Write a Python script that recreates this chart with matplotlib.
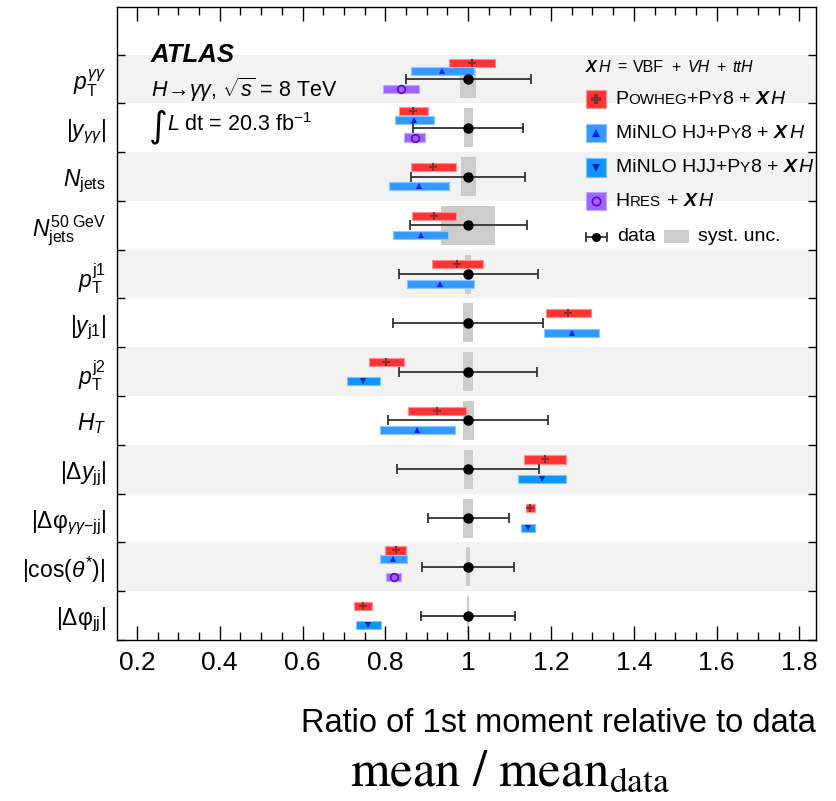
import numpy as np
import matplotlib
matplotlib.use("Agg")
import matplotlib.pyplot as plt
from matplotlib.patches import Rectangle
from matplotlib.lines import Line2D
from matplotlib.offsetbox import AnchoredOffsetbox, DrawingArea, HPacker, TextArea
from matplotlib.ticker import FixedLocator, MultipleLocator, FuncFormatter

SANS = "Liberation Sans"
plt.rcParams.update({
    "font.family": [SANS, "DejaVu Sans"],
    "mathtext.fontset": "custom",
    "mathtext.rm": SANS,
    "mathtext.it": SANS + ":italic",
    "mathtext.bf": SANS + ":bold",
    "mathtext.sf": SANS,
})

# observables, top to bottom
OBSERVABLES = [
    r"$p_{\mathrm{T}}^{\gamma\gamma}$",
    r"$|y_{\gamma\gamma}|$",
    r"$N_{\mathrm{jets}}$",
    r"$N_{\mathrm{jets}}^{\mathrm{50\ GeV}}$",
    r"$p_{\mathrm{T}}^{\mathrm{j1}}$",
    r"$|y_{\mathrm{j1}}|$",
    r"$p_{\mathrm{T}}^{\mathrm{j2}}$",
    r"$H_{T}$",
    r"$|\Delta y_{\mathrm{jj}}|$",
    r"$|\Delta\mathrm{\varphi}_{\gamma\gamma\mathrm{-jj}}|$",
    r"$|\cos(\theta^{*})|$",
    r"$|\Delta\mathrm{\varphi}_{\mathrm{jj}}|$",
]

nan = np.nan
POWHEG = [1.009, 0.868, 0.916, 0.917, 0.974, 1.241, 0.802, 0.925, 1.186, 1.150, 0.825, 0.746]
POWHEG_LO = [0.953, 0.832, 0.862, 0.865, 0.913, 1.187, 0.760, 0.855, 1.134, 1.139, 0.798, 0.724]
POWHEG_HI = [1.064, 0.904, 0.970, 0.970, 1.036, 1.296, 0.844, 0.995, 1.237, 1.162, 0.850, 0.769]

MINLO_HJ = [0.938, 0.870, 0.882, 0.885, 0.932, 1.251, nan, 0.877, nan, nan, 0.819, nan]
MINLO_HJ_LO = [0.863, 0.823, 0.810, 0.819, 0.852, 1.184, nan, 0.786, nan, nan, 0.786, nan]
MINLO_HJ_HI = [1.013, 0.917, 0.954, 0.952, 1.013, 1.317, nan, 0.968, nan, nan, 0.853, nan]

MINLO_HJJ = [nan, nan, nan, nan, nan, nan, 0.747, nan, 1.178, 1.144, nan, 0.758]
MINLO_HJJ_LO = [nan, nan, nan, nan, nan, nan, 0.707, nan, 1.121, 1.128, nan, 0.729]
MINLO_HJJ_HI = [nan, nan, nan, nan, nan, nan, 0.788, nan, 1.237, 1.161, nan, 0.789]

HRES = [0.839, 0.871, nan, nan, nan, nan, nan, nan, nan, nan, 0.821, nan]
HRES_LO = [0.795, 0.845, nan, nan, nan, nan, nan, nan, nan, nan, 0.802, nan]
HRES_HI = [0.882, 0.896, nan, nan, nan, nan, nan, nan, nan, nan, 0.839, nan]

DATA = [1.0, 1.0, 1.0, 1.0, 1.0, 1.0, 1.0, 1.0, 1.0, 1.0, 1.0, 1.0]
DATA_LO = [0.850, 0.868, 0.863, 0.859, 0.834, 0.818, 0.834, 0.806, 0.829, 0.903, 0.888, 0.886]
DATA_HI = [1.151, 1.132, 1.137, 1.142, 1.168, 1.181, 1.166, 1.194, 1.172, 1.098, 1.111, 1.113]
SYST = [0.019, 0.011, 0.018, 0.066, 0.008, 0.012, 0.012, 0.013, 0.011, 0.012, 0.005, 0.002]

RED, RED_EDGE, RED_MARK = "#ff3333", "#ff9090", "#8c2d2d"
BLUE, BLUE_EDGE, BLUE_MARK = "#3399ff", "#90c6ff", "#0a1aff"
BLUE2, BLUE2_EDGE, BLUE2_MARK = "#0f94ff", "#80c4ff", "#0d2c9e"
PURPLE, PURPLE_EDGE, PURPLE_MARK = "#9966ff", "#c4a8ff", "#6a00d0"
BAND = "#f2f2f2"
GREY = "#cccccc"

W, H = 836, 801
AX_TOP, AX_BOT = 7, 640
fig = plt.figure(figsize=(W / 100, H / 100), dpi=100)
ax = fig.add_axes([117 / W, 1 - AX_BOT / H, 699 / W, (AX_BOT - AX_TOP) / H])

n = len(OBSERVABLES)
ypos = np.arange(n, 0, -1).astype(float)
for i, y in enumerate(ypos):
    if i % 2 == 0:
        ax.axhspan(y - 0.5, y + 0.5, color=BAND, lw=0, zorder=0)

syst = np.array(SYST)
ax.barh(ypos, 2 * syst, left=np.array(DATA) - syst, height=0.8, color=GREY, lw=0, zorder=1)

has_hres = ~np.isnan(np.array(HRES))
red_off = np.where(has_hres, 0.335, 0.2)
blue_off = np.where(has_hres, 0.167, -0.2)
purple_off = np.full(n, -0.2)
BAR_H = 0.165


def draw_pred(center, lo, hi, off, fc, ec, marker, mc, ms, mfc=None, mew=0.8):
    center, lo, hi = np.array(center), np.array(lo), np.array(hi)
    m = ~np.isnan(center)
    yy = ypos[m] + off[m]
    ax.barh(yy, hi[m] - lo[m], left=lo[m], height=BAR_H, color=fc,
            edgecolor=ec, lw=0.8, zorder=2)
    ax.plot(center[m], yy, ls="none", marker=marker, ms=ms, color=mc,
            mfc=mfc if mfc else mc, mew=mew, zorder=3)


draw_pred(POWHEG, POWHEG_LO, POWHEG_HI, red_off, RED, RED_EDGE, "P", RED_MARK, 5.5, mew=0)
draw_pred(MINLO_HJ, MINLO_HJ_LO, MINLO_HJ_HI, blue_off, BLUE, BLUE_EDGE, "^", BLUE_MARK, 5, mew=0)
draw_pred(MINLO_HJJ, MINLO_HJJ_LO, MINLO_HJJ_HI, blue_off, BLUE2, BLUE2_EDGE, "v", BLUE2_MARK, 5, mew=0)
draw_pred(HRES, HRES_LO, HRES_HI, purple_off, PURPLE, PURPLE_EDGE, "o", PURPLE_MARK, 5.5,
          mfc="none", mew=1.2)

data = np.array(DATA)
ax.errorbar(data, ypos, xerr=[data - np.array(DATA_LO), np.array(DATA_HI) - data],
            fmt="o", color="black", ms=6.5, ecolor="#333333", elinewidth=1.3,
            capsize=3.5, capthick=1.3, zorder=4)

ax.set_xlim(0.152, 1.840)
ax.set_ylim(0.5, 13.475)
ax.xaxis.set_major_locator(MultipleLocator(0.2))
ax.xaxis.set_minor_locator(MultipleLocator(0.05))
ax.xaxis.set_major_formatter(FuncFormatter(lambda v, p: f"{v:g}"))
ax.tick_params(axis="x", which="both", direction="in", top=True, bottom=True,
               labelsize=19, pad=8)
ax.tick_params(axis="x", which="major", length=10, width=1)
ax.tick_params(axis="x", which="minor", length=5.5, width=1)

ax.set_yticks(ypos)
ax.set_yticklabels(OBSERVABLES, fontsize=16.5)
ax.yaxis.set_minor_locator(FixedLocator(np.arange(0.5, n + 1, 1.0)))
ax.tick_params(axis="y", which="major", length=0, pad=8)
ax.tick_params(axis="y", which="minor", direction="in", left=True, right=True,
               length=6, width=1)
for s in ax.spines.values():
    s.set_linewidth(1.0)

ax.set_xlabel("Ratio of 1st moment relative to data", fontsize=23.5, ha="right", va="baseline")
ax.xaxis.set_label_coords(1.0, (AX_BOT - 731.5) / (AX_BOT - AX_TOP))

fig.text(510 / W, 1 - 786 / H, r"$\mathrm{mean\ /\ mean}_{\mathrm{data}}$",
         fontsize=36.5, ha="center", va="baseline", math_fontfamily="stix")

# ATLAS labels
fig.text(151 / W, 1 - 62 / H, "ATLAS", fontsize=18.5, fontweight="bold",
         fontstyle="italic", va="baseline")
fig.text(151 / W, 1 - 97 / H, r"$H\!\rightarrow\!\gamma\gamma$, $\sqrt{s}$ = 8 TeV",
         fontsize=15.5, va="baseline")
fig.text(149 / W, 1 - 136 / H, "\u222b", fontsize=26, va="baseline",
         family="DejaVu Sans")
fig.text(167 / W, 1 - 131 / H, r"$L$ dt = 20.3 fb$^{\mathrm{-1}}$",
         fontsize=15.5, va="baseline")

# legend
LEG_FS = 14


def piece(s, size=LEG_FS, **kw):
    return TextArea(s, textprops=dict(fontsize=size, **kw))


def sc(s):
    return piece(s, size=LEG_FS * 0.78)


def xh(size=LEG_FS):
    return HPacker(children=[piece("X", size, fontweight="bold", fontstyle="italic"),
                             piece("H", size, fontstyle="italic")],
                   sep=1.5, pad=0, align="baseline")


def plus_xh(head):
    return HPacker(children=[HPacker(children=head, sep=0, pad=0, align="baseline"),
                             piece("+"), xh()], sep=4, pad=0, align="baseline")


def swatch(fc, ec, marker, mc, ms, mfc=None, mew=0):
    da = DrawingArea(14.4, 13, 0, 0)
    da.add_artist(Rectangle((0, 0), 14.4, 13, fc=fc, ec=ec, lw=0.8))
    da.add_artist(Line2D([7.2], [6.5], marker=marker, ms=ms, color=mc,
                         mfc=mfc if mfc else mc, mew=mew, ls="none"))
    return da


def place(box, x, y):
    fig.add_artist(AnchoredOffsetbox(loc="center left", child=box, pad=0, borderpad=0,
                                     frameon=False, bbox_to_anchor=(x / W, 1 - y / H),
                                     bbox_transform=fig.transFigure))


HDR = 11.5
place(HPacker(children=[xh(HDR), piece("=", HDR), piece("VBF", HDR), piece("+", HDR),
                        piece("VH", HDR, fontstyle="italic"), piece("+", HDR),
                        piece("ttH", HDR, fontstyle="italic")],
              sep=5, pad=0, align="baseline"), 586, 67.7)

entries = [
    (swatch(RED, RED_EDGE, "P", RED_MARK, 7),
     plus_xh([piece("P"), sc("OWHEG"), piece("+P"), sc("Y"), piece("8")]), 99.2),
    (swatch(BLUE, BLUE_EDGE, "^", BLUE_MARK, 6),
     plus_xh([piece("MiNLO HJ+P"), sc("Y"), piece("8")]), 133.3),
    (swatch(BLUE2, BLUE2_EDGE, "v", BLUE2_MARK, 6),
     plus_xh([piece("MiNLO HJJ+P"), sc("Y"), piece("8")]), 167.5),
    (swatch(PURPLE, PURPLE_EDGE, "o", PURPLE_MARK, 6, mfc="none", mew=1.2),
     plus_xh([piece("H"), sc("RES")]), 201.3),
]
for sw, lab, y in entries:
    place(HPacker(children=[sw, lab], sep=7, pad=0, align="center"), 586, y)

err_da = DrawingArea(16.5, 13, 0, 0)
err_da.add_artist(Line2D([0.5, 16], [6.5, 6.5], color="#333333", lw=1.3))
err_da.add_artist(Line2D([0.5, 0.5], [3.5, 9.5], color="#333333", lw=1.3))
err_da.add_artist(Line2D([16, 16], [3.5, 9.5], color="#333333", lw=1.3))
err_da.add_artist(Line2D([8.25], [6.5], marker="o", ms=5.5, color="black", ls="none"))
box_da = DrawingArea(18, 9.6, 0, 0)
box_da.add_artist(Rectangle((0, 0), 18, 9.6, fc=GREY, ec="none"))
place(HPacker(children=[err_da, piece("data"), box_da, piece("syst. unc.")],
              sep=6.5, pad=0, align="center"), 585, 236.7)

fig.savefig("out.png", dpi=100)
